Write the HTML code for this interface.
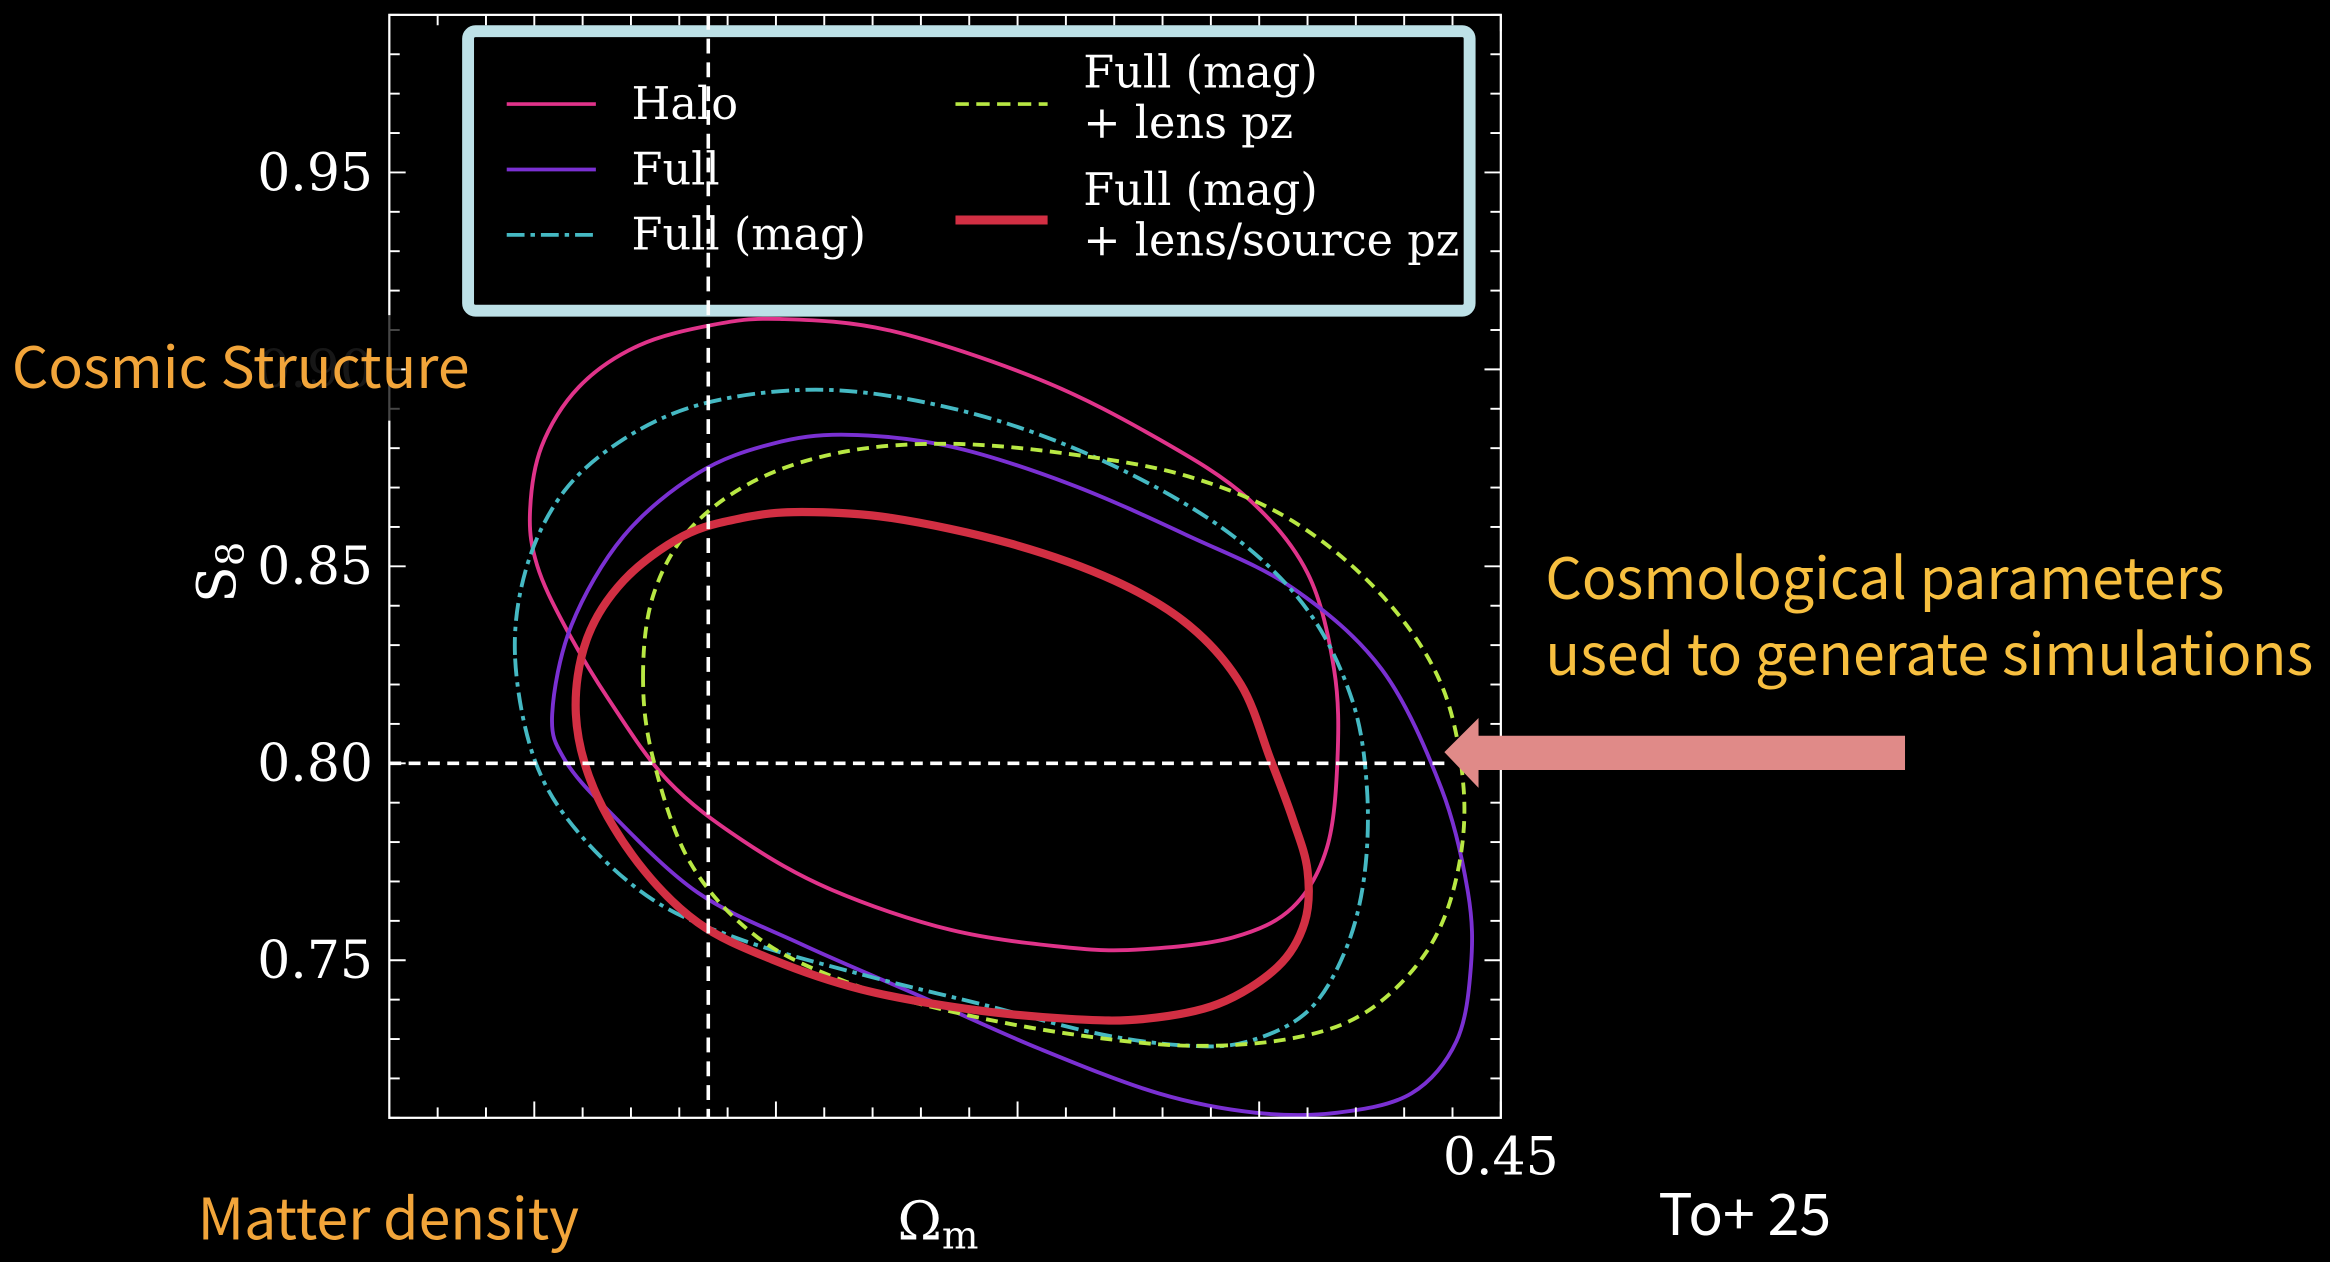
<!DOCTYPE html>
<html><head><meta charset="utf-8"><style>
html,body{margin:0;padding:0;background:#000;}
svg{display:block;}
</style></head><body>
<svg id="chart" width="2330" height="1262" viewBox="0 0 1568 849" preserveAspectRatio="none" xmlns="http://www.w3.org/2000/svg">
<rect x="0" y="0" width="1568" height="849" fill="#000"/>
<defs><clipPath id="plotclip"><rect x="262" y="10" width="748" height="742"/></clipPath></defs>
<g id="contours" clip-path="url(#plotclip)"></g>
<g id="axes"></g>
<g id="refs"></g>
<g id="legend">
  <rect x="315" y="21" width="674" height="188" rx="5" fill="#000" stroke="#bde1e7" stroke-width="8"/>
  <g>
    <line x1="341" y1="70" x2="401" y2="70" stroke="#e0338a" stroke-width="2.5"/>
    <text x="425" y="80" font-family="DejaVu Serif, Liberation Serif, serif" font-size="30" fill="#fff">Halo</text>
  </g>
  <g>
    <line x1="341" y1="114" x2="401" y2="114" stroke="#7a30d2" stroke-width="2.5"/>
    <text x="425" y="124" font-family="DejaVu Serif, Liberation Serif, serif" font-size="30" fill="#fff">Full</text>
  </g>
  <g>
    <line x1="341" y1="158" x2="401" y2="158" stroke="#45b9c3" stroke-width="2.5" stroke-dasharray="12,4,3,4"/>
    <text x="425" y="168" font-family="DejaVu Serif, Liberation Serif, serif" font-size="30" fill="#fff">Full (mag)</text>
  </g>
  <g>
    <line x1="643" y1="70" x2="705" y2="70" stroke="#b8e843" stroke-width="2.5" stroke-dasharray="9,5"/>
    <text x="729" y="59" font-family="DejaVu Serif, Liberation Serif, serif" font-size="30" fill="#fff">Full (mag)</text>
    <text x="729" y="93" font-family="DejaVu Serif, Liberation Serif, serif" font-size="30" fill="#fff">+ lens pz</text>
  </g>
  <g>
    <line x1="643" y1="148" x2="705" y2="148" stroke="#d22f43" stroke-width="6"/>
    <text x="729" y="138" font-family="DejaVu Serif, Liberation Serif, serif" font-size="30" fill="#fff">Full (mag)</text>
    <text x="729" y="172" font-family="DejaVu Serif, Liberation Serif, serif" font-size="30" fill="#fff">+ lens/source pz</text>
  </g>
</g>
<g id="refs2"></g>
<rect x="150" y="212" width="120" height="71" fill="#000" opacity="0.72"/>
<text x="8" y="261" font-family="Noto Sans CJK JP, DejaVu Sans, sans-serif" font-size="38.5" fill="#f2a53a">Cosmic Structure</text>
<text x="133" y="834" font-family="Noto Sans CJK JP, DejaVu Sans, sans-serif" font-size="38.5" fill="#f2a53a">Matter density</text>
<text x="1040" y="403" font-family="Noto Sans CJK JP, DejaVu Sans, sans-serif" font-size="38.5" fill="#f7bf3f">Cosmological parameters</text>
<text x="1040" y="454" font-family="Noto Sans CJK JP, DejaVu Sans, sans-serif" font-size="38.5" fill="#f7bf3f">used to generate simulations</text>
<polygon points="972,506 995,483 995,495 1282,495 1282,518 995,518 995,530" fill="#e08a88"/>
<text x="1116" y="831" font-family="Noto Sans CJK JP, DejaVu Sans, sans-serif" font-size="38.5" fill="#fff">To+ 25</text>
<text x="604" y="834" font-family="DejaVu Serif, Liberation Serif, serif" font-size="36" fill="#fff">Ω<tspan font-size="26" dy="6">m</tspan></text>
<text transform="translate(158,385) rotate(-90)" text-anchor="middle" font-family="DejaVu Serif, Liberation Serif, serif" font-size="36" fill="#fff">S<tspan font-size="26" dy="6">8</tspan></text>
</svg>
<script>
const xDomain = [0.22, 0.45];
const yDomain = [0.71, 0.99];
const yTickValues = [0.75, 0.80, 0.85, 0.90, 0.95];
const yTickLabels = ["0.75", "0.80", "0.85", "0.90", "0.95"];
const xTickValues = [0.45];
const xTickLabels = ["0.45"];
const fiducialOm = 0.286;
const fiducialS8 = 0.80;

const haloOm = [0.2491,0.2515,0.2592,0.2715,0.2869,0.3008,0.3238,0.3546,0.3792,0.3977,0.4100,0.4155,0.4162,0.4140,0.4069,0.3946,0.3762,0.3608,0.3362,0.3115,0.2931,0.2777,0.2654,0.2562,0.2506];
const haloS8 = [0.8634,0.8804,0.8955,0.9060,0.9113,0.9128,0.9098,0.8974,0.8823,0.8672,0.8483,0.8238,0.8011,0.7785,0.7634,0.7558,0.7528,0.7532,0.7577,0.7679,0.7804,0.7955,0.8162,0.8351,0.8502];
const fullOm = [0.2537,0.2577,0.2685,0.2838,0.2992,0.3146,0.3362,0.3608,0.3854,0.4069,0.4254,0.4377,0.4432,0.4438,0.4408,0.4315,0.4162,0.3992,0.3792,0.3546,0.3300,0.3054,0.2838,0.2654,0.2562];
const fullS8 = [0.8125,0.8351,0.8577,0.8736,0.8811,0.8834,0.8804,0.8709,0.8577,0.8445,0.8238,0.7936,0.7672,0.7483,0.7294,0.7162,0.7113,0.7113,0.7162,0.7275,0.7408,0.7540,0.7672,0.7879,0.8011];
const magOm = [0.2460,0.2485,0.2562,0.2685,0.2838,0.3038,0.3238,0.3485,0.3731,0.3946,0.4100,0.4192,0.4223,0.4217,0.4177,0.4100,0.3977,0.3854,0.3669,0.3423,0.3177,0.2931,0.2746,0.2592,0.2500];
const magS8 = [0.8275,0.8502,0.8691,0.8823,0.8909,0.8947,0.8932,0.8860,0.8736,0.8577,0.8389,0.8162,0.7936,0.7709,0.7521,0.7370,0.7294,0.7283,0.7313,0.7389,0.7464,0.7551,0.7653,0.7823,0.8011];
const lensOm = [0.2725,0.2746,0.2823,0.2962,0.3146,0.3362,0.3608,0.3854,0.4069,0.4254,0.4377,0.4423,0.4408,0.4346,0.4223,0.4069,0.3854,0.3608,0.3362,0.3146,0.2962,0.2823,0.2746];
const lensS8 = [0.8219,0.8426,0.8596,0.8721,0.8792,0.8811,0.8785,0.8728,0.8615,0.8426,0.8200,0.7936,0.7709,0.7521,0.7370,0.7302,0.7283,0.7313,0.7370,0.7445,0.7558,0.7747,0.8011];
const srcOm = [0.2586,0.2608,0.2685,0.2808,0.2931,0.3054,0.3238,0.3485,0.3700,0.3854,0.3962,0.4023,0.4069,0.4100,0.4094,0.4038,0.3915,0.3762,0.3608,0.3392,0.3177,0.2992,0.2838,0.2715,0.2623];
const srcS8 = [0.8125,0.8313,0.8464,0.8577,0.8623,0.8638,0.8623,0.8558,0.8464,0.8351,0.8200,0.8011,0.7860,0.7728,0.7596,0.7483,0.7389,0.7351,0.7351,0.7377,0.7426,0.7502,0.7596,0.7747,0.7936];

const PL = 262, PR = 1010, PT = 10, PB = 752;
function sx(v){ return PL + (v - xDomain[0]) / (xDomain[1] - xDomain[0]) * (PR - PL); }
function sy(v){ return PB - (v - yDomain[0]) / (yDomain[1] - yDomain[0]) * (PB - PT); }
const NS = "http://www.w3.org/2000/svg";
function mk(tag, attrs, parent){ const e = document.createElementNS(NS, tag); for (const k in attrs) e.setAttribute(k, attrs[k]); parent.appendChild(e); return e; }

function closedPath(xs, ys){
  const p = xs.map((x,i)=>[sx(x), sy(ys[i])]);
  const n = p.length;
  let d = "M" + p[0][0].toFixed(2) + "," + p[0][1].toFixed(2);
  for (let i=0;i<n;i++){
    const p0=p[(i-1+n)%n], p1=p[i], p2=p[(i+1)%n], p3=p[(i+2)%n];
    const c1=[p1[0]+(p2[0]-p0[0])/6, p1[1]+(p2[1]-p0[1])/6];
    const c2=[p2[0]-(p3[0]-p1[0])/6, p2[1]-(p3[1]-p1[1])/6];
    d += "C"+c1[0].toFixed(2)+","+c1[1].toFixed(2)+" "+c2[0].toFixed(2)+","+c2[1].toFixed(2)+" "+p2[0].toFixed(2)+","+p2[1].toFixed(2);
  }
  return d + "Z";
}

const cg = document.getElementById("contours");
let el;
el = mk("path", {d: closedPath(haloOm, haloS8), fill:"none", stroke:"#e0338a", "stroke-width":2.6}, cg);


el = mk("path", {d: closedPath(fullOm, fullS8), fill:"none", stroke:"#7a30d2", "stroke-width":2.6}, cg);


el = mk("path", {d: closedPath(magOm, magS8), fill:"none", stroke:"#45b9c3", "stroke-width":2.6, "stroke-dasharray":"12,4,3,4"}, cg);


el = mk("path", {d: closedPath(lensOm, lensS8), fill:"none", stroke:"#b8e843", "stroke-width":2.6, "stroke-dasharray":"8,5"}, cg);


el = mk("path", {d: closedPath(srcOm, srcS8), fill:"none", stroke:"#d22f43", "stroke-width":5.5}, cg);



const ag = document.getElementById("axes");
el = mk("rect", {x:PL, y:PT, width:PR-PL, height:PB-PT, fill:"none", stroke:"#fff", "stroke-width":1.5}, ag);


for (let k=23;k<=45;k++){
  const v = k/100, X = sx(v), major = (k%5===0), L = major?11:7;
  el = mk("line", {x1:X, y1:PB, x2:X, y2:PB-L, stroke:"#fff", "stroke-width":1.3}, ag);
  
  
  el = mk("line", {x1:X, y1:PT, x2:X, y2:PT+L, stroke:"#fff", "stroke-width":1.3}, ag);
  
  
}
for (let k=71;k<=99;k++){
  const v = k/100, Y = sy(v), major = (k%5===0), L = major?11:7;
  el = mk("line", {x1:PL, y1:Y, x2:PL+L, y2:Y, stroke:"#fff", "stroke-width":1.3}, ag);
  
  
  el = mk("line", {x1:PR, y1:Y, x2:PR-L, y2:Y, stroke:"#fff", "stroke-width":1.3}, ag);
  
  
}
yTickValues.forEach((v,i)=>{
  el = mk("text", {x:251, y:sy(v)+12, "text-anchor":"end", "font-family":"DejaVu Serif, Liberation Serif, serif", "font-size":35, fill: yTickLabels[i]==="0.90" ? "#555" : "#fff"}, ag);
  el.textContent = yTickLabels[i];
  
  
});
xTickValues.forEach((v,i)=>{
  el = mk("text", {x:sx(v), y:790, "text-anchor":"middle", "font-family":"DejaVu Serif, Liberation Serif, serif", "font-size":35, fill:"#fff"}, ag);
  el.textContent = xTickLabels[i];
  
  
});

const rg = document.getElementById("refs");
el = mk("line", {x1:PL, y1:sy(fiducialS8), x2:975, y2:sy(fiducialS8), stroke:"#fff", "stroke-width":2.4, "stroke-dasharray":"8,5"}, rg);


const rg2 = document.getElementById("refs2");
el = mk("line", {x1:sx(fiducialOm), y1:PT, x2:sx(fiducialOm), y2:PB, stroke:"#fff", "stroke-width":2.4, "stroke-dasharray":"10,6"}, rg2);


</script>
</body></html>
